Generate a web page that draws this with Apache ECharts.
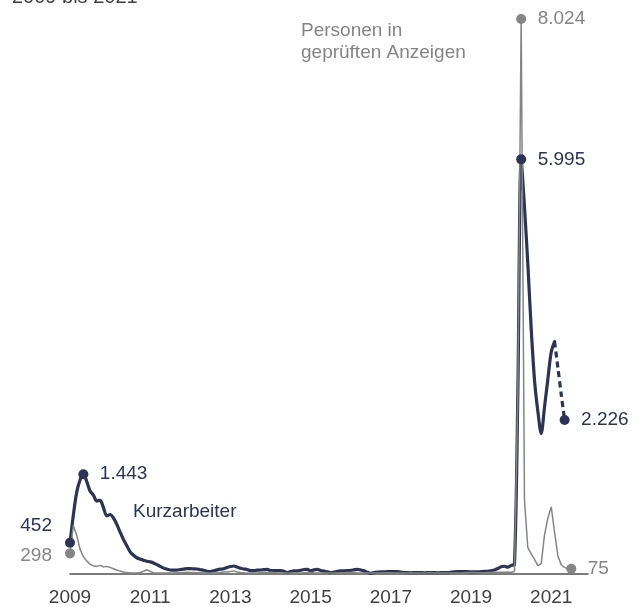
<!DOCTYPE html>
<html><head><meta charset="utf-8">
<script src="https://cdn.jsdelivr.net/npm/echarts@6/dist/echarts.min.js"></script>
<style>html,body{margin:0;padding:0;background:#fff}#c{width:643px;height:607px}</style>
</head><body><div id="c"></div>
<script>
// Monthly values in thousands, starting January 2009
const startYear = 2009;
const tickYears = [2009, 2011, 2013, 2015, 2017, 2019, 2021];

// Kurzarbeiter (realised), Jan 2009 – Feb 2021
const kurzarbeiter = [
  452, 850, 1180, 1360, 1443, 1340, 1200, 1140, 1055, 1065, 960, 840,
  860, 810, 720, 605, 500, 410, 320, 270, 235, 215, 200, 185,
  175, 160, 135, 110, 85, 70, 58, 55, 58, 65, 70, 78,
  78, 74, 72, 62, 55, 40, 34, 48, 60, 70, 75, 95,
  108, 116, 100, 82, 72, 65, 50, 48, 55, 58, 62, 66,
  50, 48, 48, 48, 40, 19, 35, 45, 45, 55, 65, 68,
  45, 60, 66, 50, 42, 30, 20, 28, 40, 45, 46, 48,
  52, 60, 68, 58, 45, 25, 10, 20, 26, 30, 32, 34,
  34, 34, 33, 28, 22, 19, 18, 19, 20, 19, 18, 19,
  20, 19, 18, 19, 21, 19, 25, 32, 34, 34, 34, 33,
  32, 30, 30, 33, 37, 40, 48, 58, 80, 105, 112, 98,
  125, 140, 2600, 5995, 5300, 4480, 3550, 2800, 2350, 2030, 2420, 2820,
  3210, 3360
];
// Kurzarbeiter projection (dashed), Feb 2021 – May 2021
const kurzarbeiterProj = [3360, 2980, 2590, 2226];

// Personen in geprüften Anzeigen, Jan 2009 – Jul 2021
const anzeigen = [
  298, 700, 560, 360, 250, 190, 140, 120, 110, 125, 105, 110,
  95, 75, 58, 42, 28, 20, 15, 15, 15, 22, 40, 62,
  35, 18, 15, 15, 15, 14, 14, 15, 18, 20, 22, 25,
  22, 20, 18, 18, 16, 15, 15, 16, 18, 22, 28, 30,
  35, 45, 30, 22, 18, 16, 15, 15, 16, 18, 20, 22,
  25, 20, 16, 15, 14, 14, 14, 14, 15, 16, 18, 20,
  22, 18, 16, 15, 14, 14, 14, 14, 15, 16, 18, 20,
  20, 18, 15, 14, 14, 14, 14, 14, 15, 16, 18, 18,
  18, 16, 14, 14, 13, 13, 13, 13, 14, 15, 16, 18,
  18, 16, 14, 14, 13, 13, 13, 14, 15, 16, 18, 20,
  20, 20, 18, 18, 18, 20, 22, 24, 25, 25, 26, 28,
  25, 35, 2600, 8024, 1060, 380, 290, 210, 120, 150, 570, 810,
  970, 600, 260, 130, 95, 72, 75
];

const NAVY = '#2b3553';
const GRAY = '#858585';
const FONT = '"Liberation Sans", Arial, sans-serif';
const FS = 19;

function de(v) { return String(Math.round(v)).replace(/\B(?=(\d{3})+(?!\d))/g, '.'); }

const projStart = kurzarbeiter.length - 1;
const kData = kurzarbeiter.map((v, i) => [i, v]);
const pData = kurzarbeiterProj.map((v, i) => [projStart + i, v]);
const aData = anzeigen.map((v, i) => [i, v]);

function peakIndex(arr) { let b = 0; arr.forEach((v, i) => { if (v > arr[b]) b = i; }); return b; }
const kPeak2009 = peakIndex(kurzarbeiter.slice(0, 24));
const kPeak2020 = peakIndex(kurzarbeiter);
const aPeak = peakIndex(anzeigen);
const lastA = anzeigen.length - 1;

function lbl(color, pos, extra) {
  return Object.assign({ show: true, position: pos, distance: 11.5, color: color, opacity: 1,
    fontSize: FS, fontFamily: FONT, formatter: p => de(p.value[1]) }, extra || {});
}

const navyDots = [
  { value: kData[0], label: lbl(NAVY, 'left', { distance: 13, offset: [0, -17] }) },
  { value: kData[kPeak2009], label: lbl(NAVY, 'right') },
  { value: kData[kPeak2020], label: lbl(NAVY, 'right') },
  { value: pData[pData.length - 1], label: lbl(NAVY, 'right') }
];
const grayDots = [
  { value: aData[0], label: lbl(GRAY, 'left', { distance: 13, offset: [0, 2] }) },
  { value: aData[aPeak], label: lbl(GRAY, 'right') },
  { value: aData[lastA], label: lbl(GRAY, 'right') }
];

const chart = echarts.init(document.getElementById('c'), null, { renderer: 'canvas' });
chart.setOption({
  animation: false,
  grid: { left: 70, right: 55, top: 19, bottom: 33, containLabel: false },
  xAxis: {
    type: 'value', min: 0, max: 155, interval: 24,
    axisLine: { show: true, lineStyle: { color: '#505050', width: 1.5 } },
    axisTick: { show: false }, splitLine: { show: false },
    axisLabel: {
      color: '#404040', fontSize: FS, fontFamily: FONT, margin: 14,
      formatter: v => { const y = startYear + v / 12; return tickYears.includes(y) ? String(y) : ''; }
    }
  },
  yAxis: { type: 'value', min: 0, max: 8024, show: false, splitLine: { show: false } },
  series: [
    { type: 'line', data: kData, symbol: 'none', smooth: 0.3, z: 2,
      lineStyle: { color: NAVY, width: 3.2, join: 'round', cap: 'round' } },
    { type: 'line', data: pData, symbol: 'none', smooth: 0.3, z: 2,
      lineStyle: { color: NAVY, width: 3.2, type: [6, 4] } },
    { type: 'line', data: aData, symbol: 'none', z: 3,
      lineStyle: { color: GRAY, width: 1.5 } },
    { type: 'scatter', data: navyDots, symbolSize: 10, itemStyle: { color: NAVY, opacity: 1 }, z: 5 },
    { type: 'scatter', data: grayDots, symbolSize: 10, itemStyle: { color: GRAY, opacity: 1 }, z: 6 }
  ],
  graphic: [
    { type: 'text', left: 12, top: -13, silent: true,
      style: { text: '2009 bis 2021', font: '20px ' + FONT, fill: '#404040' } },
    { type: 'text', left: 133, top: 502, silent: true,
      style: { text: 'Kurzarbeiter', font: FS + 'px ' + FONT, fill: NAVY } },
    { type: 'text', left: 301, top: 20, silent: true,
      style: { text: 'Personen in\ngeprüften Anzeigen', font: FS + 'px ' + FONT, fill: GRAY, lineHeight: 22 } }
  ]
});
</script>
</body></html>
